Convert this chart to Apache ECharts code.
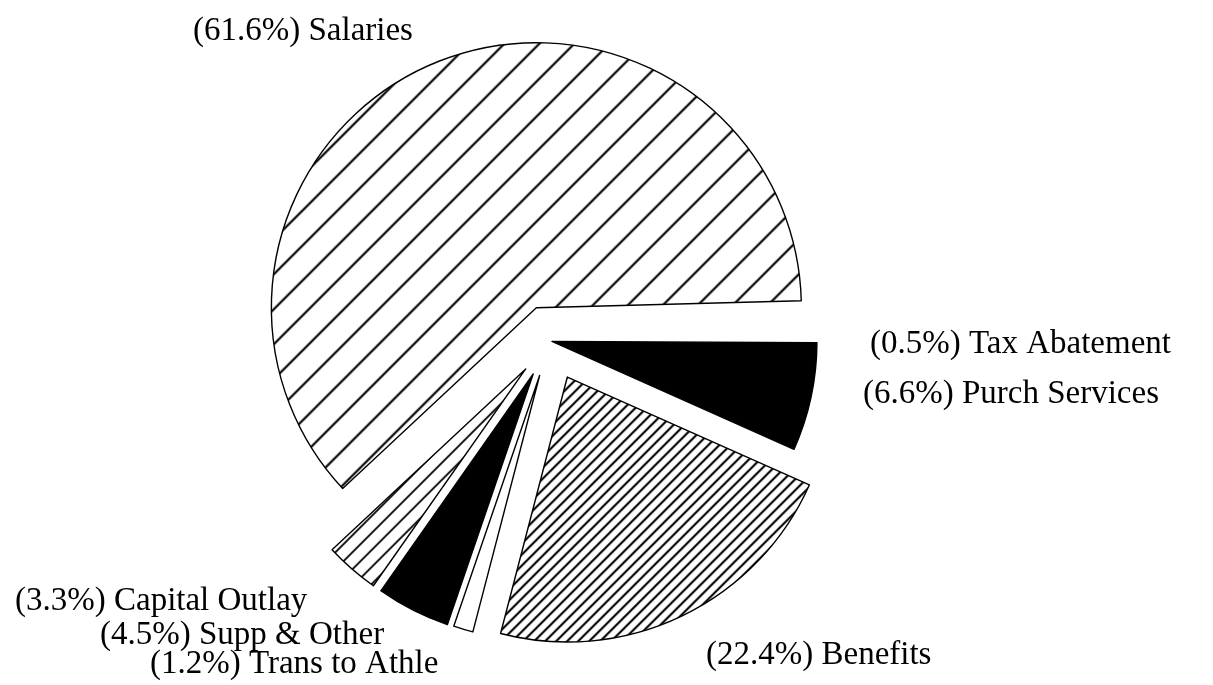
<!DOCTYPE html>
<html><head><meta charset="utf-8">
<script src="https://cdn.jsdelivr.net/npm/echarts@6/dist/echarts.min.js"></script>
<style>html,body{margin:0;padding:0;background:#fff}#chart{width:1213px;height:685px}</style>
</head><body><div id="chart"></div>
<script>
// ---- data ----
const categories = ['Tax Abatement', 'Purch Services', 'Benefits', 'Trans to Athle', 'Supp & Other', 'Capital Outlay', 'Salaries'];
const shares = [0.5, 6.6, 22.4, 1.2, 4.5, 3.3, 61.6];

// ---- presentation ----
const fillKind = ['white', 'black', 'dense', 'white', 'black', 'mid', 'wide'];
const explode = [0, 2, 40, 36, 37, 37, 36];
const labelX = [870, 863, 706, 150, 100, 15, 193];
const labelBase = [355, 405, 666, 675, 646, 612, 42];
const FONT_SIZE = 33;

function hatch(spacing, lw) {
  const s = Math.round(spacing * Math.SQRT2);
  const c = document.createElement('canvas');
  c.width = s; c.height = s;
  const g = c.getContext('2d');
  g.fillStyle = '#fff'; g.fillRect(0, 0, s, s);
  g.strokeStyle = '#000'; g.lineWidth = lw;
  g.beginPath();
  g.moveTo(0, s); g.lineTo(s, 0);
  g.moveTo(-s / 2, s / 2); g.lineTo(s / 2, -s / 2);
  g.moveTo(s / 2, 3 * s / 2); g.lineTo(3 * s / 2, s / 2);
  g.stroke();
  return { image: c, repeat: 'repeat' };
}
const fills = {
  white: '#ffffff',
  black: '#000000',
  dense: hatch(8, 2.1),
  mid: hatch(12, 1.8),
  wide: hatch(25, 2.2)
};

const chart = echarts.init(document.getElementById('chart'), null, { renderer: 'canvas' });

const series = categories.map((_, i) => ({
  type: 'pie',
  center: [550, 341],
  radius: [0, 265],
  startAngle: 1.5,
  clockwise: true,
  selectedMode: 'single',
  selectedOffset: explode[i],
  avoidLabelOverlap: false,
  silent: true,
  animation: false,
  emphasis: { disabled: true },
  label: { show: false },
  labelLine: { show: false },
  data: categories.map((name, j) => j === i ? {
    name, value: shares[j], selected: explode[j] > 0,
    itemStyle: {
      color: fills[fillKind[j]],
      borderColor: '#000',
      borderWidth: j === 0 ? 0 : 1.4
    }
  } : {
    name, value: shares[j],
    itemStyle: { color: 'rgba(0,0,0,0)', borderWidth: 0 }
  })
}));

const texts = categories.map((name, i) => ({
  type: 'text',
  x: labelX[i],
  y: labelBase[i] - Math.round(FONT_SIZE * 0.33),
  silent: true,
  style: {
    text: '(' + shares[i].toFixed(1) + '%) ' + name,
    font: FONT_SIZE + 'px "Liberation Serif"',
    fill: '#000',
    align: 'left',
    verticalAlign: 'middle'
  }
}));

chart.setOption({
  backgroundColor: '#ffffff',
  animation: false,
  series,
  graphic: texts
});
</script>
</body></html>
